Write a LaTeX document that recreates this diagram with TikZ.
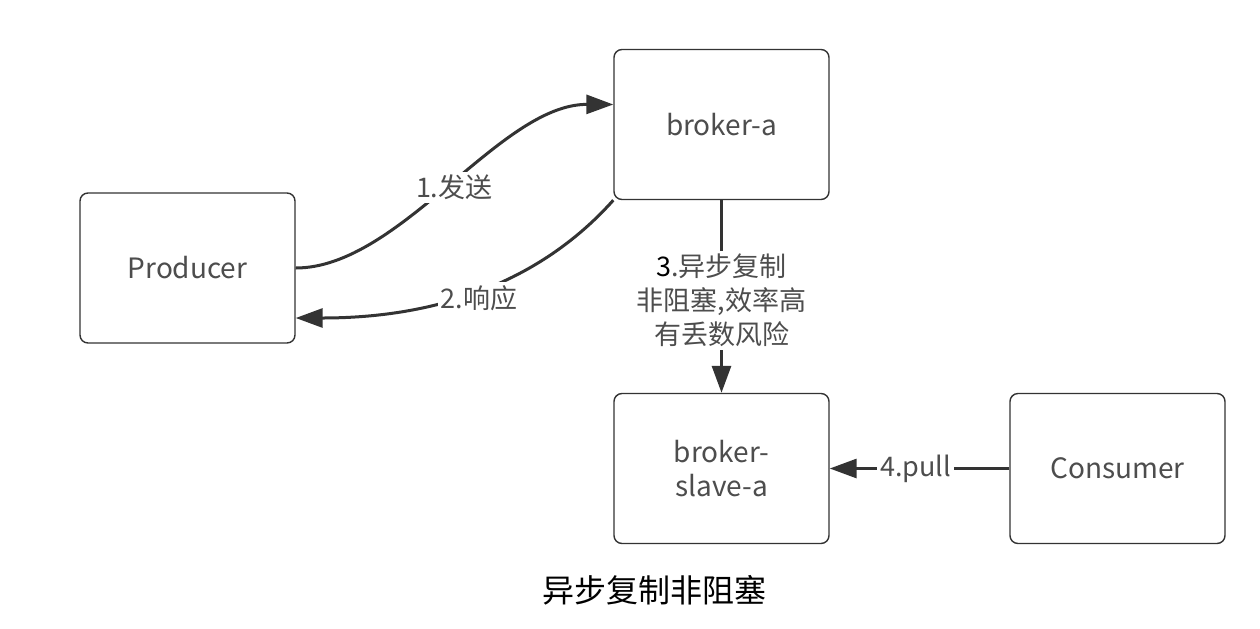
\documentclass[tikz,border=0pt]{standalone}
\usepackage{fontspec}
\setmainfont{Noto Sans CJK SC}
\usetikzlibrary{arrows.meta,calc}
\definecolor{linec}{HTML}{333333}
\definecolor{textc}{HTML}{4D4D4D}
\tikzset{
  box/.style={draw=linec, line width=0.7pt, rounded corners=4pt, fill=white,
    minimum width=107.5pt, minimum height=75pt, text=textc, align=center,
    font=\fontsize{14}{17}\selectfont},
  conn/.style={draw=linec, line width=1.5pt, -{Triangle[length=13.5pt,width=9.5pt]}},
  lbl/.style={fill=white, text=textc, inner sep=1.5pt, align=center,
    font=\fontsize{13.5}{17}\selectfont}
}
\begin{document}
\begin{tikzpicture}[x=0.5pt,y=-0.5pt]
\useasboundingbox (0,0) rectangle (1260,628);
\node[box] (prod) at (187.5,268) {Producer};
\node[box] (ba) at (721.5,124.5) {broker-a};
\node[box] (bs) at (721.5,468.5) {broker-\\slave-a};
\node[box] (cons) at (1117.5,468.5) {Consumer};
\coordinate (baIn) at ($(ba.west)+(0,-20)$);
\coordinate (prodIn) at ($(prod.east)+(0,50)$);
\draw[conn] (prod.east) .. controls (400,268) and (500,104) .. (baIn)
  node[lbl, pos=0.51, yshift=-2pt] {1.发送};
\draw[conn] (ba.south west) .. controls (560,260) and (470,318) .. (prodIn)
  node[lbl, pos=0.56, yshift=-4.5pt, xshift=-1pt] {2.响应};
\draw[conn] (ba.south) -- (bs.north)
  node[lbl, pos=0.5, yshift=-2pt] {\textcolor{black}{3}.异步复制\\非阻塞,效率高\\有丢数风险};
\draw[conn] (cons.west) -- (bs.east)
  node[lbl, pos=0.5, xshift=-2pt] {4.pull};
\node (cap) at (654,590) {\fontsize{16}{18}\selectfont 异步复制非阻塞};
\end{tikzpicture}
\end{document}
